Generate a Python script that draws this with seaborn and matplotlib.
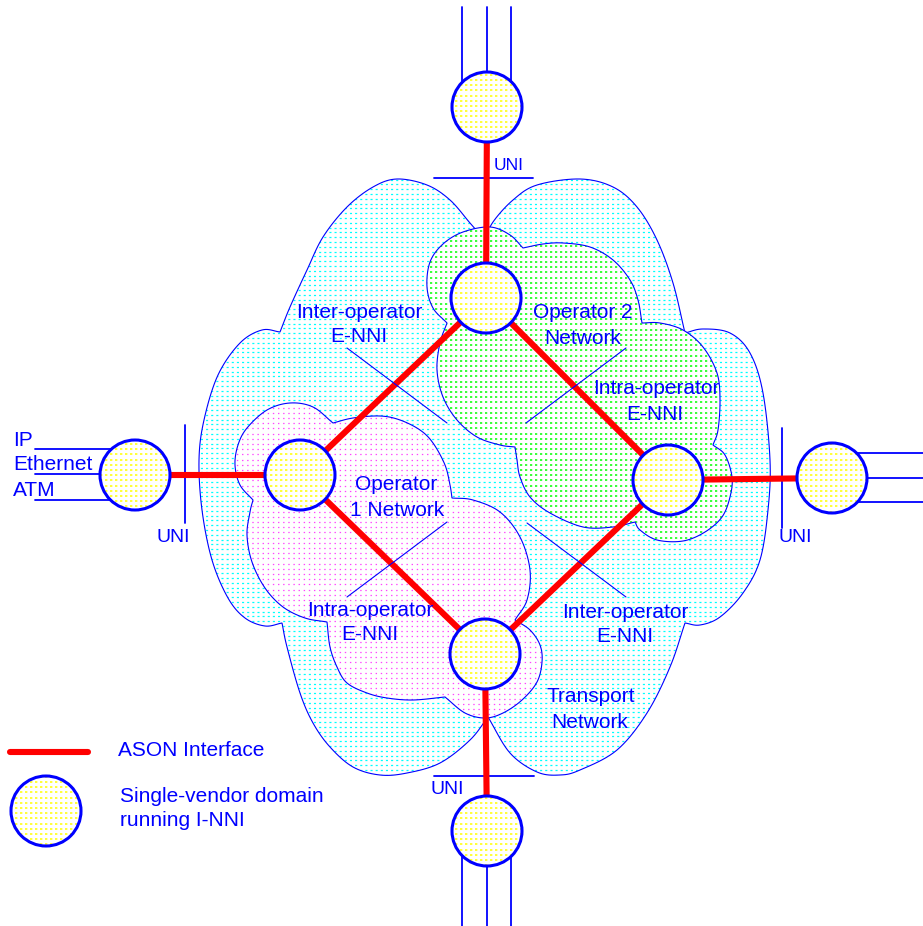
import numpy as np
import pandas as pd
import matplotlib
matplotlib.use("Agg")
import matplotlib.pyplot as plt
import seaborn as sns
from matplotlib.patches import Polygon, Circle
from matplotlib.collections import LineCollection

W, H = 923, 926

# ---- nodes (single-vendor domains), pixel coords of the picture
node_names = ["top_out", "top", "left", "right", "bottom", "bottom_out", "left_out", "right_out", "legend"]
node_x = [487, 486, 300, 668, 485, 487, 135, 832, 46]
node_y = [107, 298, 475, 480, 654, 831, 475, 478, 811]
node_r = 35

# ASON interfaces (red links)
links = [("top_out", "top"), ("top", "left"), ("top", "right"), ("left", "bottom"),
         ("right", "bottom"), ("bottom", "bottom_out"), ("left_out", "left"), ("right", "right_out")]

# clouds, traced lobe by lobe (each lobe runs cusp to cusp)
transport_lobes = [
    [(280, 332), (290, 307), (307, 270), (323, 237), (347, 207), (373, 187), (397, 179), (427, 185), (450, 200), (470, 223), (485, 240)],
    [(485, 240), (493, 222), (513, 200), (537, 185), (580, 179), (613, 187), (637, 207), (657, 240), (673, 283), (685, 333)],
    [(685, 333), (703, 329), (730, 333), (750, 353), (763, 393), (770, 460), (768, 510), (760, 560), (743, 593), (720, 617), (700, 625), (685, 623)],
    [(685, 623), (670, 667), (647, 713), (617, 750), (580, 770), (560, 775), (537, 772), (510, 753), (488, 717)],
    [(488, 717), (470, 740), (440, 763), (407, 773), (380, 775), (353, 767), (330, 747), (313, 723), (300, 693), (287, 647), (282, 623)],
    [(282, 623), (265, 626), (245, 618), (228, 598), (212, 560), (202, 510), (199, 460), (204, 420), (218, 375), (240, 343), (262, 330), (280, 332)],
]
operator2_lobes = [
    [(447, 323), (433, 308), (427, 287), (430, 262), (443, 244), (463, 232), (490, 227), (510, 235), (523, 248)],
    [(523, 248), (543, 244), (563, 243), (590, 247), (613, 260), (630, 280), (638, 300), (642, 323)],
    [(642, 323), (660, 323), (683, 330), (703, 347), (717, 373), (720, 400), (718, 430), (713, 445)],
    [(713, 445), (725, 455), (732, 477), (730, 497), (722, 517), (705, 532), (683, 541), (657, 540), (640, 530), (635, 522)],
    [(635, 522), (613, 527), (583, 527), (550, 513), (530, 497), (520, 477), (517, 460), (515, 447)],
    [(515, 447), (500, 445), (477, 437), (457, 420), (443, 397), (437, 370), (440, 343), (447, 323)],
]
operator1_lobes = [
    [(253, 500), (240, 485), (235, 465), (238, 445), (247, 428), (267, 410), (290, 403), (313, 407), (333, 423)],
    [(333, 423), (353, 418), (380, 416), (400, 420), (420, 430), (433, 443), (445, 465), (450, 485), (452, 498)],
    [(452, 498), (473, 500), (500, 512), (520, 537), (530, 570), (527, 600), (515, 620)],
    [(515, 620), (530, 630), (540, 645), (542, 662), (537, 682), (522, 700), (503, 713), (485, 718), (465, 713), (445, 697)],
    [(445, 697), (413, 700), (387, 698), (367, 693), (347, 683), (337, 667), (330, 647), (327, 622)],
    [(327, 622), (305, 618), (283, 607), (265, 588), (252, 562), (247, 535), (250, 512), (253, 500)],
]

# thin blue callout lines
callouts = [((347, 348), (447, 423)), ((626, 348), (526, 423)),
            ((447, 522), (347, 597)), ((527, 523), (626, 597))]

# UNI reference bars
uni_bars = [((434, 178), (533, 178)), ((434, 776), (534, 776)),
            ((185, 425), (185, 523)), ((782, 428), (782, 528))]

# client leads (IP / Ethernet / ATM)
leads = [((462, 7), (462, 107)), ((487, 7), (487, 107)), ((511, 7), (511, 107)),
         ((462, 831), (462, 926)), ((487, 831), (487, 926)), ((511, 831), (511, 926)),
         ((35, 449), (135, 449)), ((35, 474), (135, 474)), ((35, 500), (135, 500)),
         ((832, 453), (923, 453)), ((832, 478), (923, 478)), ((832, 502), (923, 502))]

# text lines: (text, x, y, ha, size)
labels = [
    ("UNI", 494, 166, "left", 12.5),
    ("Inter-operator", 359, 312, "center", 15), ("E-NNI", 359, 337, "center", 15),
    ("Operator 2", 583, 313, "center", 15), ("Network", 583, 339, "center", 15),
    ("Intra-operator", 656, 388, "center", 15), ("E-NNI", 655, 414, "center", 15),
    ("IP", 13, 440, "left", 15), ("Ethernet", 13, 465, "left", 15), ("ATM", 13, 490, "left", 15),
    ("UNI", 173, 538, "center", 14), ("UNI", 795, 538, "center", 14), ("UNI", 447, 789, "center", 14),
    ("Operator", 396, 485, "center", 15), ("1 Network", 397, 510, "center", 15),
    ("Intra-operator", 370, 610, "center", 15), ("E-NNI", 370, 634, "center", 15),
    ("Inter-operator", 625, 612, "center", 15), ("E-NNI", 625, 636, "center", 15),
    ("Transport", 591, 697, "center", 15), ("Network", 590, 723, "center", 15),
    ("ASON Interface", 118, 751, "left", 15),
    ("Single-vendor domain", 120, 796, "left", 15), ("running I-NNI", 120, 820, "left", 15),
]
legend_line = [(10, 752), (88, 752)]

BLUE = "#0000ff"
RED = "#ff0000"


def catmull(pts, n=10):
    P = np.array(pts, float)
    P = np.vstack([2 * P[0] - P[1], P, 2 * P[-1] - P[-2]])
    out = []
    t = np.linspace(0, 1, n, endpoint=False)[:, None]
    for i in range(1, len(P) - 2):
        p0, p1, p2, p3 = P[i - 1], P[i], P[i + 1], P[i + 2]
        out.append(0.5 * (2 * p1 + (-p0 + p2) * t + (2 * p0 - 5 * p1 + 4 * p2 - p3) * t ** 2
                          + (-p0 + 3 * p1 - 3 * p2 + p3) * t ** 3))
    return np.vstack(out)


def outline(lobes):
    return np.vstack([catmull(l) for l in lobes])


def dotted_fill(ax, patch, color, step, dash, gap, lw, z):
    segs = [[(0, y), (W, y)] for y in np.arange(2, H, step)]
    lc = LineCollection(segs, colors=color, linewidths=lw,
                        linestyles=[(0, (dash, gap))], zorder=z)
    ax.add_collection(lc)
    lc.set_clip_path(patch)


def region(ax, pts, color, step, dash, gap, lw, z):
    face = Polygon(pts, closed=True, facecolor="white", edgecolor="none", zorder=z)
    ax.add_patch(face)
    dotted_fill(ax, face, color, step, dash, gap, lw, z + 0.1)
    ax.add_patch(Polygon(pts, closed=True, fill=False, edgecolor=BLUE, lw=0.8, zorder=z + 0.2))


sns.set_theme(style="white")
plt.rcParams["font.family"] = ["Liberation Sans", "DejaVu Sans"]
plt.rcParams["lines.scale_dashes"] = False

fig = plt.figure(figsize=(W / 100, H / 100), dpi=100)
ax = fig.add_axes([0, 0, 1, 1])

region(ax, outline(transport_lobes), "#00ffff", 4.8, 1.5, 2.2, 0.9, 1)
region(ax, outline(operator2_lobes), "#00ff00", 5.2, 1.6, 2.0, 1.1, 2)
region(ax, outline(operator1_lobes), "#ff44ff", 5.2, 1.0, 2.7, 0.9, 2)

# client leads and UNI bars
for (a, b) in leads + uni_bars:
    ax.plot([a[0], b[0]], [a[1], b[1]], color=BLUE, lw=1.3, zorder=3)

# ASON interfaces via seaborn
pos = dict(zip(node_names, zip(node_x, node_y)))
rows = []
for i, (a, b) in enumerate(links):
    rows.append({"link": i, "x": pos[a][0], "y": pos[a][1]})
    rows.append({"link": i, "x": pos[b][0], "y": pos[b][1]})
df = pd.DataFrame(rows)
sns.lineplot(data=df, x="x", y="y", units="link", estimator=None, sort=False,
             color=RED, linewidth=4.4, ax=ax, legend=False, zorder=4)
ax.plot([legend_line[0][0], legend_line[1][0]], [legend_line[0][1], legend_line[1][1]],
        color=RED, lw=4.4, solid_capstyle="round", zorder=4)

# callouts
for (a, b) in callouts:
    ax.plot([a[0], b[0]], [a[1], b[1]], color=BLUE, lw=0.8, zorder=4.5)

# single-vendor domains
for x, y in zip(node_x, node_y):
    c = Circle((x, y), node_r, facecolor="white", edgecolor="none", zorder=5)
    ax.add_patch(c)
    dotted_fill(ax, c, "#ffff00", 5.2, 1.7, 1.9, 1.1, 5.1)
    ax.add_patch(Circle((x, y), node_r, fill=False, edgecolor=BLUE, lw=2.2, zorder=5.2))

for txt, x, y, ha, size in labels:
    ax.text(x, y, txt, ha=ha, va="center", fontsize=size, color=BLUE, zorder=6)

ax.set_xlim(0, W)
ax.set_ylim(H, 0)
ax.axis("off")
fig.savefig("out.png", dpi=100, facecolor="white")
